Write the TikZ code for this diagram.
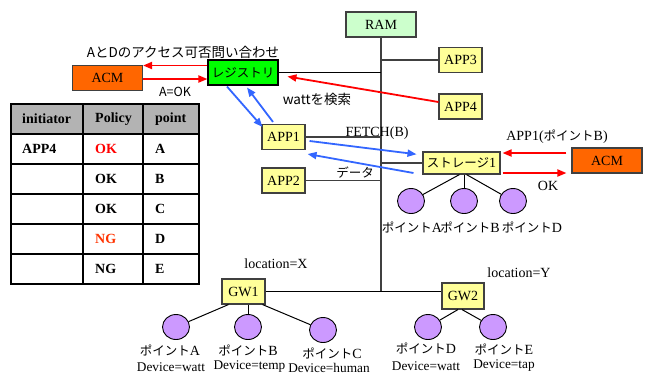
\documentclass[tikz,border=0pt]{standalone}
\usepackage{fontspec}
\setmainfont{Liberation Serif}
\newfontfamily\jp{Noto Sans CJK JP}
\usetikzlibrary{arrows.meta,calc,shapes.geometric}

\definecolor{boxyellow}{HTML}{FFFF99}
\definecolor{ramgreen}{HTML}{CCFFCC}
\definecolor{reggreen}{HTML}{00FF00}
\definecolor{acmorange}{HTML}{FF6600}
\definecolor{ptpurple}{HTML}{CC99FF}
\definecolor{hdrgray}{HTML}{B3B3B3}
\definecolor{lnk}{HTML}{404040}
\definecolor{arrred}{HTML}{FF0000}
\definecolor{arrblue}{HTML}{3366FF}
\definecolor{ngred}{HTML}{FF3300}

\newcommand\sr{\fontsize{14bp}{16bp}\selectfont}
\newcommand\srs{\fontsize{13.3bp}{15bp}\selectfont}
\newcommand\jt{\jp\fontsize{12.5bp}{14bp}\selectfont}
\newcommand\jb{\jp\fontsize{13.5bp}{15bp}\selectfont}
\newcommand\kana[1]{{\jp\fontsize{12.5bp}{14bp}\selectfont #1}}

\begin{document}
\begin{tikzpicture}[x=1bp,y=-1bp,
  box/.style={draw=lnk, line width=1.1bp, fill=boxyellow, minimum width=43bp,
    minimum height=25bp, inner sep=0pt, font=\sr},
  acm/.style={box, fill=acmorange, minimum width=70bp},
  pt/.style={ellipse, draw=black, line width=0.9bp, fill=ptpurple,
    minimum width=27bp, minimum height=25bp, inner sep=0pt},
  bus/.style={draw=lnk, line width=1.2bp},
  stub/.style={draw=black, line width=1bp},
  redarr/.style={draw=arrred, line width=1.8bp, -{Triangle[length=9bp,width=7bp]}},
  bluearr/.style={draw=arrblue, line width=1.8bp, -{Triangle[length=9bp,width=7bp]}},
  lbl/.style={inner sep=0pt, font=\sr},
  dev/.style={inner sep=0pt, font=\srs},
  cell/.style={inner sep=0pt, anchor=west, font=\sr\bfseries},
  grid/.style={draw=black, line width=1.5bp}
]
\useasboundingbox (0,0) rectangle (645,374);

% --- boxes ---
\node[box, fill=ramgreen, minimum width=70bp] (ram) at (381,24.5) {RAM};
\node[box, fill=reggreen, draw=black, minimum width=70bp] (reg) at (243,72.5) {\jt レジストリ};
\node[acm] (acml) at (107.5,78) {ACM};
\node[box] (app3) at (460.5,60) {APP3};
\node[box] (app4) at (460.5,106.5) {APP4};
\node[box] (app1) at (283.5,137) {APP1};
\node[box] (app2) at (283.5,180.5) {APP2};
\node[box, minimum width=77bp, minimum height=22bp] (stor) at (461.5,163) {\kana{ストレージ}1};
\node[acm] (acmr) at (607,160.5) {ACM};
\node[box] (gw1) at (243.5,291.5) {GW1};
\node[box, minimum width=42bp, minimum height=26bp] (gw2) at (463,296) {GW2};

% --- bus and its stubs ---
\coordinate (busend) at (ram.south |- gw1.east);
\draw[bus] (ram.south) -- (busend);
\draw[bus] (app3.west) -- (app3.west -| ram.south);
\draw[stub] (reg.east) -- (reg.east -| ram.south);
\draw[bus] (app1.east) -- (app1.east -| ram.south);
\draw[bus] (app2.east) -- (app2.east -| ram.south);
\draw[bus] (stor.west) -- (stor.west -| ram.south);
\draw[stub] (gw1.east) -- (gw1.east -| gw2.west);

% --- points ---
\node[pt] (s1) at (411,201) {};
\node[pt] (s2) at (464,201) {};
\node[pt] (s3) at (513,201) {};
\node[pt] (g1) at (176,327) {};
\node[pt] (g2) at (248,327) {};
\node[pt] (g3) at (323,330) {};
\node[pt] (g4) at (428,327) {};
\node[pt] (g5) at (493,327) {};

\draw[stub] ($(stor.south)+(-2,0)$) -- (s1);
\draw[stub] (stor.south -| s2) -- (s2);
\draw[stub] ($(stor.south)+(5,0)$) -- (s3);
\draw[stub] ($(gw1.south)+(-15,0)$) -- (g1);
\draw[stub] (gw1.south -| g2) -- (g2);
\draw[stub] ($(gw1.south)+(19,0)$) -- (g3);
\draw[stub] ($(gw2.south)+(-5,0)$) -- (g4);
\draw[stub] ($(gw2.south)+(-1,0)$) -- (g5);

% --- point labels ---
\node[lbl] (ls1) at (412,227) {\kana{ポイント}A};
\node[lbl] (ls2) at (470,227) {\kana{ポイント}B};
\node[lbl] (ls3) at (532,227) {\kana{ポイント}D};
\node[lbl] (lg1) at (170,350) {\kana{ポイント}A};
\node[lbl] (lg2) at (248,350) {\kana{ポイント}B};
\node[lbl] (lg3) at (332,353) {\kana{ポイント}C};
\node[lbl] (lg4) at (426,348) {\kana{ポイント}D};
\node[lbl] (lg5) at (504,349) {\kana{ポイント}E};
\node[dev] (dg1) at (171,367) {Device=watt};
\node[dev] (dg2) at (249.5,367) {Device=temp};
\node[dev] (dg3) at (329,368) {Device=human};
\node[dev] (dg4) at (426,366) {Device=watt};
\node[dev] (dg5) at (504,366) {Device=tap};
\node[lbl] (locx) at (276,264) {location=X};
\node[lbl] (locy) at (519,273) {location=Y};

% --- red request arrows ---
\draw[redarr] ($(reg.west)+(0,-7)$) -- ($(reg.west -| acml.east)+(0,-7)$);
\draw[redarr] ($(acml.east)+(0,1)$) -- ($(acml.east -| reg.west)+(0,1)$);
\draw[redarr, shorten >=9bp] ($(app4.west)+(0,-4.5)$) -- ($(reg.east)+(0,2.5)$);
\draw[redarr, shorten >=2bp, shorten <=5bp] ($(acmr.west)+(0,-7.5)$) -- ($(acmr.west -| stor.east)+(0,-7.5)$);
\draw[redarr, shorten <=2bp, shorten >=5bp] ($(stor.east)+(0,10)$) -- ($(stor.east -| acmr.west)+(0,10)$);

% --- blue data arrows ---
\draw[bluearr] ($(reg.south)+(-16,1)$) -- ($(app1.north west)+(1,3)$);
\draw[bluearr] ($(app1.north)+(-10.5,-2)$) -- ($(reg.south)+(4,2)$);
\draw[bluearr, shorten >=6bp] ($(app1.east)+(4,4)$) -- ($(stor.west)+(0,-8)$);
\draw[bluearr] ($(stor.west)+(-9,10)$) -- ($(app1.east)+(2,17)$);

% --- arrow labels ---
\node[inner sep=0pt, font=\jb] (qry) at (183,52) {AとDのアクセス可否問い合わせ};
\node[inner sep=0pt, font=\jt] (aok) at (175,92) {A=OK};
\node[inner sep=0pt, font=\jb] (srch) at (317,99) {wattを検索};
\node[lbl] (fetch) at (377,133) {FETCH(B)};
\node[inner sep=0pt, font=\jt] (data) at (355,173) {データ};
\node[lbl] (askb) at (557,137) {APP1(\kana{ポイント}B)};
\node[lbl] (okr) at (548,186) {OK};

% --- policy table ---
\fill[hdrgray] (11,104) rectangle (199,134);
\draw[grid] (11,104) rectangle (199,284);
\foreach \yy in {134,164,194,224,254} \draw[grid] (11,\yy) -- (199,\yy);
\draw[grid] (83,104) -- (83,284);
\draw[grid] (143,104) -- (143,284);

\node[cell] (h1) at (22,119) {initiator};
\node[cell] (h2) at (95,119) {Policy};
\node[cell] (h3) at (155,119) {point};
\node[cell] (r1a) at (22,149) {APP4};
\node[cell, text=arrred] (r1b) at (95,149) {OK};
\node[cell] (r1c) at (155,149) {A};
\node[cell] (r2b) at (95,179) {OK};
\node[cell] (r2c) at (155,179) {B};
\node[cell] (r3b) at (95,209) {OK};
\node[cell] (r3c) at (155,209) {C};
\node[cell, text=ngred] (r4b) at (95,239) {NG};
\node[cell] (r4c) at (155,239) {D};
\node[cell] (r5b) at (95,269) {NG};
\node[cell] (r5c) at (155,269) {E};
\end{tikzpicture}
\end{document}
